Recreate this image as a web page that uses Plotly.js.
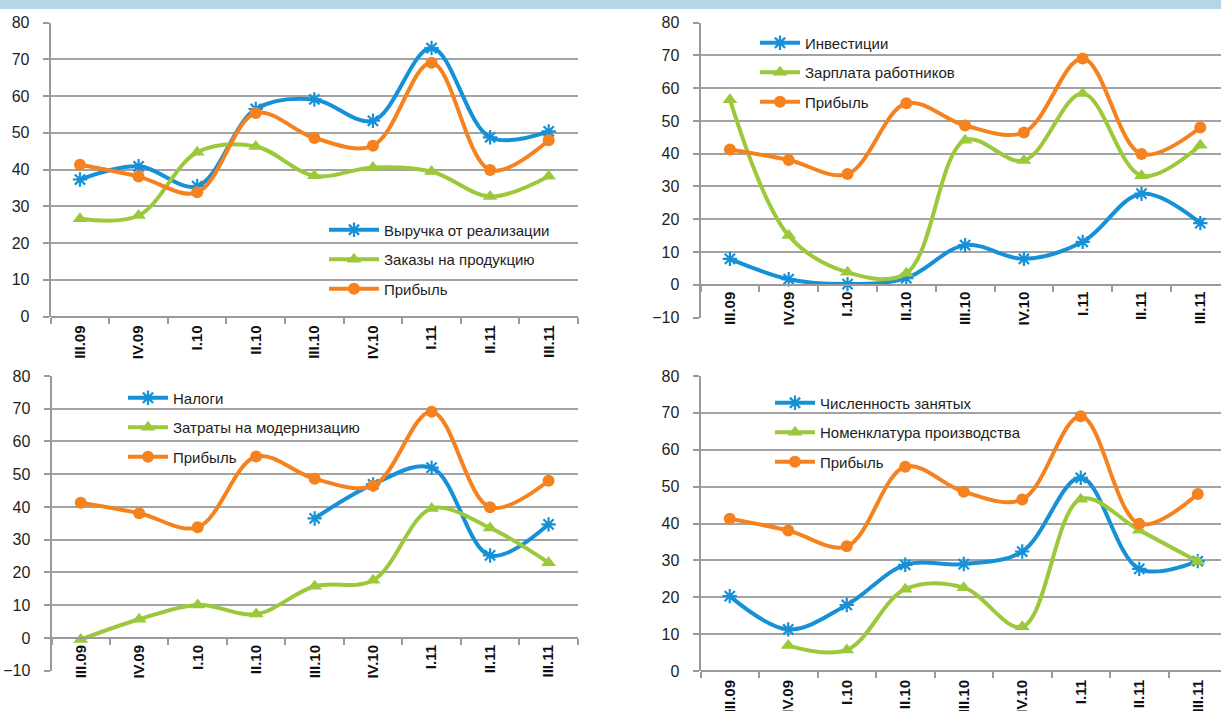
<!DOCTYPE html>
<html>
<head>
<meta charset="utf-8">
<script src="https://cdn.plot.ly/plotly-3.0.1.min.js"></script>
<style>
html,body{margin:0;padding:0;background:#fff;}
#chart{width:1221px;height:711px;}
</style>
</head>
<body>
<div id="chart"></div>
<script>
// ---- data ----
const categories = ['III.09','IV.09','I.10','II.10','III.10','IV.10','I.11','II.11','III.11'];
const profit = [41.3, 38.1, 33.8, 55.4, 48.6, 46.5, 69.1, 39.9, 48.0];
const revenue = [37.3, 40.9, 35.5, 56.5, 59.1, 53.3, 73.1, 48.8, 50.4];
const orders = [26.6, 27.5, 44.7, 46.3, 38.3, 40.6, 39.5, 32.7, 38.2];
const investments = [7.9, 1.7, 0.2, 2.0, 12.1, 7.9, 13.1, 27.8, 18.8];
const wages = [56.5, 15.0, 3.8, 3.5, 44.1, 37.9, 58.4, 33.3, 42.6];
const taxes = [null, null, null, null, 36.5, 46.9, 52.0, 25.2, 34.7];
const modernization = [-0.5, 5.7, 10.1, 7.3, 15.8, 17.6, 39.5, 33.6, 23.0];
const employment = [20.3, 11.3, 17.9, 28.8, 29.0, 32.4, 52.4, 27.7, 29.8];
const nomenclature = [null, 6.9, 5.7, 22.2, 22.6, 12.0, 46.6, 38.2, 29.7];

const namesTL = ['Выручка от реализации', 'Заказы на продукцию', 'Прибыль'];
const namesTR = ['Инвестиции', 'Зарплата работников', 'Прибыль'];
const namesBL = ['Налоги', 'Затраты на модернизацию', 'Прибыль'];
const namesBR = ['Численность занятых', 'Номенклатура производства', 'Прибыль'];

// ---- styling ----
const W = 1221, H = 711;
const BLUE = '#1690d6', GREEN = '#9cc93b', ORANGE = '#f5821f';
const GRID = '#a3a3a3', AXIS = '#9a9a9a', TXT = '#1e1e1e';
const FONT = '"Liberation Sans Narrow", "Arial Narrow", "Liberation Sans", Arial, sans-serif';
const fx = p => p / W;
const fy = p => 1 - p / H;

const markers = [
  {symbol: 'asterisk-open', size: 12, color: BLUE, line: {color: BLUE, width: 2.2}},
  {symbol: 'triangle-up', size: 13, color: GREEN, line: {width: 0}},
  {symbol: 'circle', size: 12, color: ORANGE, line: {width: 0}}
];
const colors = [BLUE, GREEN, ORANGE];

const panels = [
  {series: [revenue, orders, profit], names: namesTL, x: [50.7, 578], y: [316.5, 22.7], yr: [0, 80], xr: [-0.5, 8.5],
   legend: {sx: 329, top: 230}, itemwidth: 50},
  {series: [investments, wages, profit], names: namesTR, x: [700.5, W], y: [317.5, 22.7], yr: [-10, 80], xr: [-0.5, -0.5 + (W - 700.5) / 58.8],
   legend: {sx: 760, top: 43}, itemwidth: 40},
  {series: [taxes, modernization, profit], names: namesBL, x: [51.5, 577.8], y: [670.7, 376], yr: [-10, 80], xr: [-0.5, 8.5],
   legend: {sx: 128, top: 398}, itemwidth: 40},
  {series: [employment, nomenclature, profit], names: namesBR, x: [700.5, W], y: [671, 376], yr: [0, 80], xr: [-0.5, -0.5 + (W - 700.5) / 58.5],
   legend: {sx: 775, top: 403}, itemwidth: 40}
];

const traces = [];
const layout = {
  width: W, height: H,
  margin: {l: 0, r: 0, t: 0, b: 0},
  paper_bgcolor: '#fff', plot_bgcolor: 'rgba(0,0,0,0)',
  font: {family: FONT, size: 15, color: TXT},
  showlegend: true,
  shapes: [{type: 'rect', xref: 'paper', yref: 'paper', x0: 0, x1: 1, y0: fy(9), y1: 1,
            fillcolor: '#b6d5e6', line: {width: 0}, layer: 'above'}]
};

panels.forEach((p, i) => {
  const n = i === 0 ? '' : String(i + 1);
  const xa = 'x' + n, ya = 'y' + n;
  const lg = 'legend' + n;
  const ydom = [fy(p.y[0]), fy(p.y[1])];
  const zeroPos = ydom[0] + (0 - p.yr[0]) / (p.yr[1] - p.yr[0]) * (ydom[1] - ydom[0]);
  p.series.forEach((s, k) => {
    traces.push({
      type: 'scatter', mode: 'lines+markers',
      x: categories, y: s, name: p.names[k],
      xaxis: xa, yaxis: ya, legend: lg, legendgroup: 'g' + i + '_' + k,
      line: {color: colors[k], width: 4, shape: 'spline', smoothing: 1},
      marker: markers[k], connectgaps: false, hoverinfo: 'skip'
    });
  });
  layout['xaxis' + n] = {
    type: 'category', domain: [fx(p.x[0]), fx(p.x[1])], range: p.xr,
    anchor: 'free', position: zeroPos,
    showline: true, linecolor: AXIS, linewidth: 2,
    ticks: 'outside', tickson: 'boundaries', ticklen: 6, tickwidth: 2, tickcolor: AXIS,
    showgrid: false, zeroline: false,
    tickangle: -90,
    tickfont: {family: FONT, size: 15, color: '#111', weight: 'bold'},
    ticklabelstandoff: 2 + (0 - p.yr[0]) * (p.y[0] - p.y[1]) / (p.yr[1] - p.yr[0]),
    fixedrange: true
  };
  layout['yaxis' + n] = {
    domain: ydom, range: p.yr, anchor: xa,
    dtick: 10, tick0: 0,
    showline: true, linecolor: AXIS, linewidth: 2,
    ticks: 'outside', ticklen: 6, tickwidth: 2, tickcolor: AXIS,
    showgrid: true, gridcolor: GRID, gridwidth: 2,
    zeroline: false,
    tickfont: {family: FONT, size: 16, color: TXT},
    ticklabelstandoff: 10,
    fixedrange: true
  };
  layout[lg] = {
    x: fx(p.legend.sx - 5), y: fy(p.legend.top - 16.5), xanchor: 'left', yanchor: 'top',
    xref: 'paper', yref: 'paper',
    bgcolor: 'rgba(0,0,0,0)', borderwidth: 0,
    font: {family: FONT, size: 15, color: TXT},
    traceorder: 'grouped', tracegroupgap: 7,
    itemwidth: p.itemwidth, itemclick: false, itemdoubleclick: false
  };
});

Plotly.newPlot('chart', traces, layout, {staticPlot: true, displayModeBar: false});
</script>
</body>
</html>
